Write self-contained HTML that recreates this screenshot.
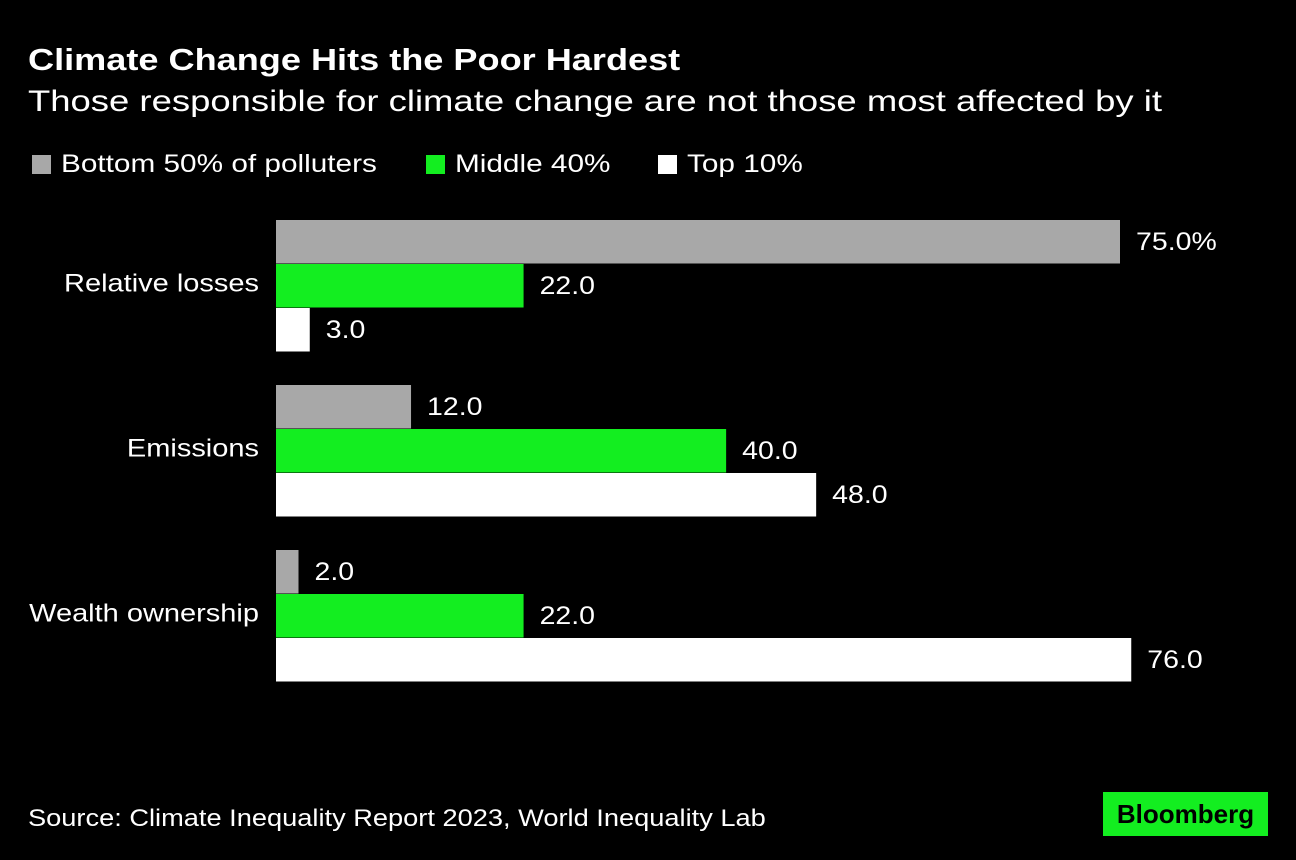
<!DOCTYPE html>
<html><head><meta charset="utf-8"><style>
body{margin:0;background:#000;width:1296px;height:860px;overflow:hidden;font-family:"Liberation Sans",sans-serif;color:#fff;position:relative}
.t{position:absolute;white-space:nowrap;transform-origin:0 50%}
</style></head><body>
<div class="t" style="left:28px;top:42px;font-size:31px;font-weight:bold;transform:scaleX(1.165)">Climate Change Hits the Poor Hardest</div>
<div class="t" style="left:28px;top:85px;font-size:30px;transform:scaleX(1.215)">Those responsible for climate change are not those most affected by it</div>
<div>
<div class="t" style="left:32px;top:150px;font-size:25px"><span style="display:inline-block;width:19px;height:19px;background:#a8a8a8;margin-right:10px;vertical-align:-2px"></span><span style="display:inline-block;transform:scaleX(1.19);transform-origin:0 50%">Bottom 50% of polluters</span></div>
<div class="t" style="left:426px;top:150px;font-size:25px"><span style="display:inline-block;width:19px;height:19px;background:#13ee20;margin-right:10px;vertical-align:-2px"></span><span style="display:inline-block;transform:scaleX(1.19);transform-origin:0 50%">Middle 40%</span></div>
<div class="t" style="left:658px;top:150px;font-size:25px"><span style="display:inline-block;width:19px;height:19px;background:#fff;margin-right:10px;vertical-align:-2px"></span><span style="display:inline-block;transform:scaleX(1.19);transform-origin:0 50%">Top 10%</span></div>
</div>
<svg id="chart" width="1296" height="860" style="position:absolute;left:0;top:0"></svg>
<div class="t" style="left:28px;top:805px;font-size:24px;transform:scaleX(1.134)">Source: Climate Inequality Report 2023, World Inequality Lab</div>
<div class="t" style="left:1103px;top:792px;width:165px;height:44px;background:#13ee20;color:#000;font-weight:bold;font-size:26px;text-align:center;line-height:44px">Bloomberg</div>
<script>
const categories=["Relative losses","Emissions","Wealth ownership"];
const bottom50=[75,12,2];
const middle40=[22,40,22];
const top10=[3,48,76];
const series=[bottom50,middle40,top10];
const colors=["#a8a8a8","#13ee20","#ffffff"];
const svg=document.getElementById('chart');
const NS="http://www.w3.org/2000/svg";
const x0=276,scale=844/75;
const xs=v=>v*scale;
const groupTop=i=>220+i*165;
const barH=43.5;
categories.forEach((c,i)=>{
  const lab=document.createElementNS(NS,'text');
  
  
  lab.setAttribute('transform','translate(259,'+(groupTop(i)+barH*1.5+6)+') scale(1.16,1)');
  lab.setAttribute('text-anchor','end');lab.setAttribute('fill','#fff');lab.setAttribute('font-size','25');
  lab.setAttribute('font-family','Liberation Sans, sans-serif');
  lab.textContent=c;svg.appendChild(lab);
  series.forEach((s,j)=>{
    const y=groupTop(i)+j*44;
    const r=document.createElementNS(NS,'rect');
    
    
    r.setAttribute('x',x0);r.setAttribute('y',y);r.setAttribute('width',xs(s[i]));r.setAttribute('height',barH);
    r.setAttribute('fill',colors[j]);svg.appendChild(r);
    const t=document.createElementNS(NS,'text');
    
    
    t.setAttribute('transform','translate('+(x0+xs(s[i])+16)+','+(y+barH/2+8)+') scale(1.14,1)');
    t.setAttribute('fill','#fff');t.setAttribute('font-size','25');
    t.setAttribute('font-family','Liberation Sans, sans-serif');
    t.textContent=s[i].toFixed(1)+(i===0&&j===0?'%':'');svg.appendChild(t);
  });
});
</script>
</body></html>
